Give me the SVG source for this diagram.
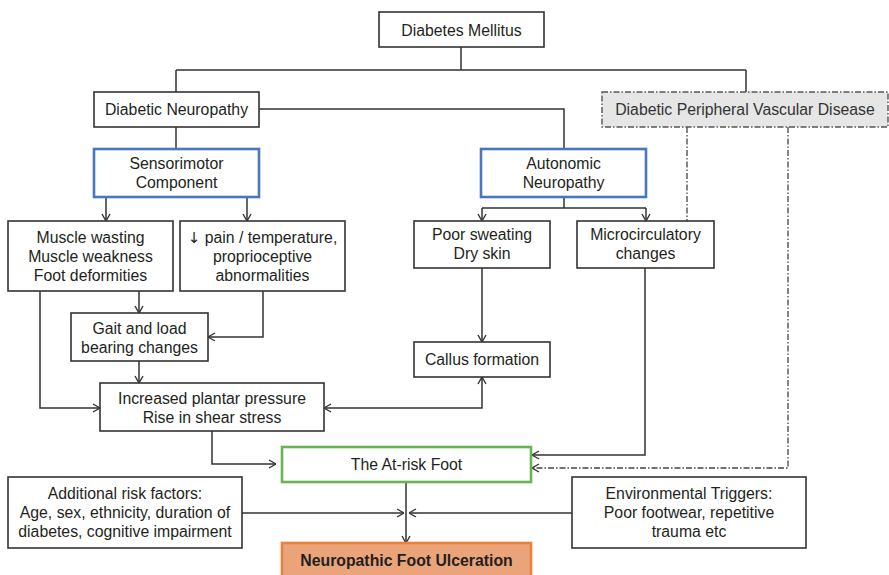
<svg xmlns="http://www.w3.org/2000/svg" width="889" height="575" viewBox="0 0 889 575">
<style>
  text { font-family: "Liberation Sans", Arial, "DejaVu Sans", sans-serif; font-size: 15.8px; fill: #231f20; text-anchor: middle; }
  .box { fill: #ffffff; stroke: #333333; stroke-width: 1.6; }
  .blue { fill: #ffffff; stroke: #4a76c0; stroke-width: 2.6; }
  .green { fill: #ffffff; stroke: #6ab350; stroke-width: 2.6; }
  .orange { fill: #eba47a; stroke: #ec7f3a; stroke-width: 2.6; }
  .grey { fill: #e6e6e6; stroke: #555555; stroke-width: 1.4; stroke-dasharray: 6 2 1.5 2; }
  .ln { fill: none; stroke: #333333; stroke-width: 1.5; }
  .dash { fill: none; stroke: #444444; stroke-width: 1.3; stroke-dasharray: 6 2 1.5 2; }
  .arr { marker-end: url(#a); }
</style>
<defs>
  <marker id="a" viewBox="0 0 10 10" refX="10" refY="5" markerWidth="10" markerHeight="10" markerUnits="userSpaceOnUse" orient="auto-start-reverse">
    <path d="M3,1 L10,5 L3,9" fill="none" stroke="#333333" stroke-width="1.4"/>
  </marker>
</defs>
<rect width="889" height="575" fill="#ffffff"/>

<g id="connectors">
  <path class="ln" d="M461,47 V70 M176,70 H746 M176,70 V92 M746,70 V92"/>
  <path class="ln" d="M259,109 H564 V149"/>
  <path class="ln" d="M176,127 V149"/>
  <path class="ln arr" d="M106,197 V221"/>
  <path class="ln arr" d="M247,197 V221"/>
  <path class="ln" d="M564,197 V208 M482,208 H646"/>
  <path class="ln arr" d="M482,208 V221"/>
  <path class="ln arr" d="M646,208 V221"/>
  <path class="ln arr" d="M139,291 V313"/>
  <path class="ln arr" d="M263,291 V337 H208"/>
  <path class="ln arr" d="M139,361 V383"/>
  <path class="ln arr" d="M40,291 V408 H100"/>
  <path class="ln arr" d="M482,377 V408 H324" marker-start="url(#a)"/>
  <path class="ln arr" d="M482,268 V342"/>
  <path class="ln arr" d="M645,268 V455 H532"/>
  <path class="dash" d="M687,127 V221"/>
  <path class="dash arr" d="M788,127 V468 H532"/>
  <path class="ln arr" d="M212,431 V464 H276"/>
  <path class="ln arr" d="M406,482 V543"/>
  <path class="ln arr" d="M242,513 H404"/>
  <path class="ln arr" d="M572,513 H409"/>
</g>

<g id="diabetes-mellitus">
  <rect class="box" x="379" y="12" width="165" height="35" stroke-width="2.2"/>
  <text x="461.5" y="35.5">Diabetes Mellitus</text>
</g>
<g id="diabetic-neuropathy">
  <rect class="box" x="94" y="92" width="165" height="35"/>
  <text x="176.5" y="115">Diabetic Neuropathy</text>
</g>
<g id="dpvd">
  <rect class="grey" x="602" y="92" width="286" height="35"/>
  <text x="745" y="115" style="fill:#333333">Diabetic Peripheral Vascular Disease</text>
</g>
<g id="sensorimotor">
  <rect class="blue" x="94" y="149" width="165" height="48"/>
  <text x="176.5" y="169">Sensorimotor</text>
  <text x="176.5" y="188">Component</text>
</g>
<g id="autonomic">
  <rect class="blue" x="481" y="149" width="165" height="48"/>
  <text x="563.5" y="169">Autonomic</text>
  <text x="563.5" y="188">Neuropathy</text>
</g>
<g id="muscle">
  <rect class="box" x="8" y="221" width="165" height="70"/>
  <text x="90.5" y="243">Muscle wasting</text>
  <text x="90.5" y="262">Muscle weakness</text>
  <text x="90.5" y="281">Foot deformities</text>
</g>
<g id="pain">
  <rect class="box" x="180" y="221" width="165" height="70"/>
  <text x="262.5" y="243"><tspan style="font-family:'DejaVu Sans',sans-serif;font-size:15px">↓</tspan> pain / temperature,</text>
  <text x="262.5" y="262">proprioceptive</text>
  <text x="262.5" y="281">abnormalities</text>
</g>
<g id="poor-sweating">
  <rect class="box" x="414" y="221" width="136" height="47"/>
  <text x="482" y="240">Poor sweating</text>
  <text x="482" y="259">Dry skin</text>
</g>
<g id="microcirculatory">
  <rect class="box" x="577" y="221" width="137" height="47"/>
  <text x="645.5" y="240">Microcirculatory</text>
  <text x="645.5" y="259">changes</text>
</g>
<g id="gait">
  <rect class="box" x="71" y="313" width="137" height="48"/>
  <text x="139.5" y="334">Gait and load</text>
  <text x="139.5" y="353">bearing changes</text>
</g>
<g id="callus">
  <rect class="box" x="414" y="342" width="136" height="35"/>
  <text x="482" y="365">Callus formation</text>
</g>
<g id="increased">
  <rect class="box" x="100" y="383" width="224" height="48"/>
  <text x="212" y="404">Increased plantar pressure</text>
  <text x="212" y="423">Rise in shear stress</text>
</g>
<g id="at-risk">
  <rect class="green" x="282" y="447" width="249" height="35"/>
  <text x="406.5" y="470">The At-risk Foot</text>
</g>
<g id="additional">
  <rect class="box" x="8" y="477" width="234" height="71"/>
  <text x="125" y="499">Additional risk factors:</text>
  <text x="125" y="518">Age, sex, ethnicity, duration of</text>
  <text x="125" y="537">diabetes, cognitive impairment</text>
</g>
<g id="environmental">
  <rect class="box" x="572" y="477" width="234" height="71"/>
  <text x="689" y="499">Environmental Triggers:</text>
  <text x="689" y="518">Poor footwear, repetitive</text>
  <text x="689" y="537">trauma etc</text>
</g>
<g id="ulceration">
  <rect class="orange" x="282" y="543" width="249" height="40"/>
  <text x="406.5" y="566" style="font-weight:bold">Neuropathic Foot Ulceration</text>
</g>
</svg>
